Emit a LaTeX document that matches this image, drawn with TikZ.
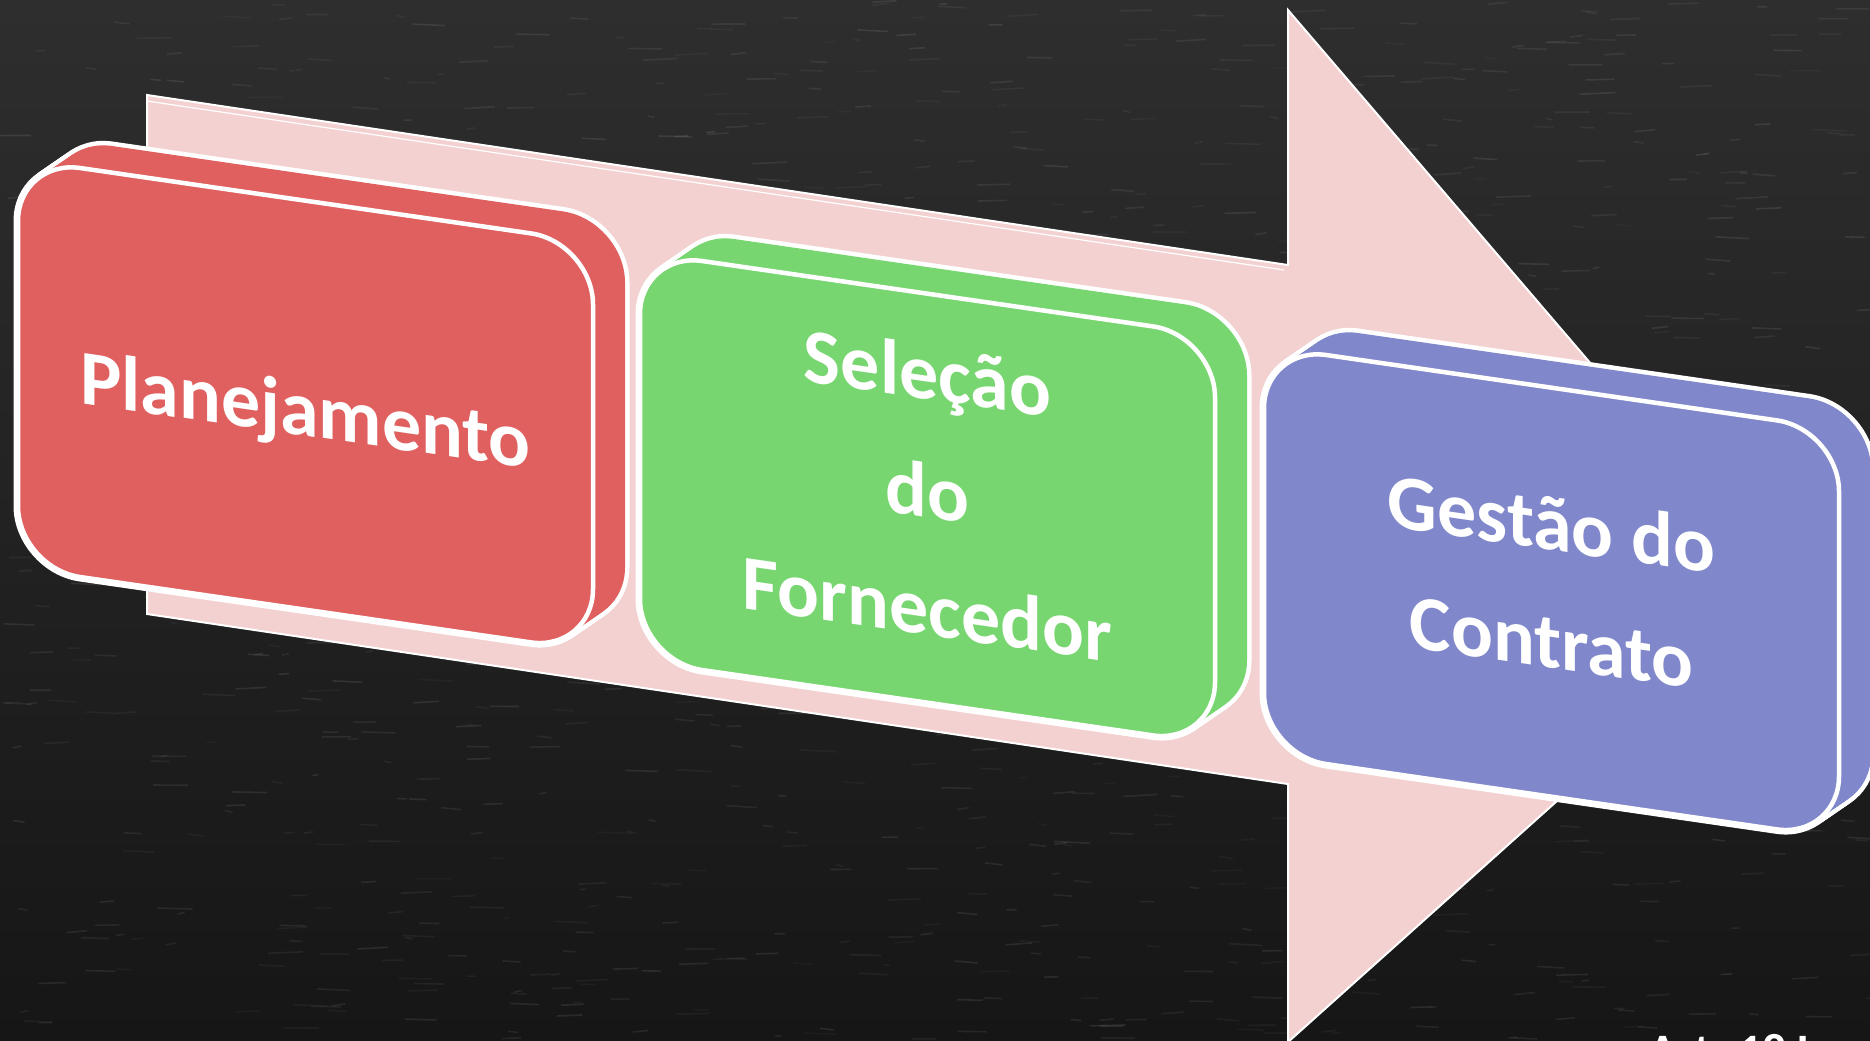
\documentclass[tikz,border=0pt]{standalone}
\usepackage{fontspec}
\setmainfont{Carlito}
\definecolor{bgtop}{HTML}{2E2E2E}
\definecolor{bgbot}{HTML}{161616}
\definecolor{arrowpink}{HTML}{F2D1D0}
\definecolor{redbox}{HTML}{E06060}
\definecolor{greenbox}{HTML}{78D670}
\definecolor{bluebox}{HTML}{8088CB}
\def\W{575}
\def\H{409}
\def\R{62}
\def\K{34}
\def\DX{32}
\def\DY{-22}
\def\SL{-0.145}
\tikzset{
  rr/.style={insert path={(0,\R) -- (0,\H-\R) .. controls (0,\H-\R+\K) and (\R-\K,\H) .. (\R,\H)
     -- (\W-\R,\H) .. controls (\W-\R+\K,\H) and (\W,\H-\R+\K) .. (\W,\H-\R)
     -- (\W,\R) .. controls (\W,\R-\K) and (\W-\R+\K,0) .. (\W-\R,0)
     -- (\R,0) .. controls (\R-\K,0) and (0,\R-\K) .. (0,\R) -- cycle}},
  boxtext/.style={text=white, font=\fontsize{39}{59}\selectfont\bfseries, align=center, inner sep=0pt},
}
\newcommand\slab[6]{%
  \foreach \t in {0,...,12}{\begin{scope}[shift={(#1+\t*\DX/12,#2+\t*\DY/12)},yslant=\SL]\draw[white,line width=4.5pt,line join=round,rr];\end{scope}}
  \foreach \t in {0,...,12}{\begin{scope}[shift={(#1+\t*\DX/12,#2+\t*\DY/12)},yslant=\SL]\fill[#3,rr];\end{scope}}
  \begin{scope}[shift={(#1,#2)},yslant=\SL]
    \filldraw[fill=#3,draw=white,line width=2.25pt,rr];
    \node[boxtext,transform shape] (#4) at (\W/2,\H/2+#6) {#5};
  \end{scope}}
\begin{document}
\begin{tikzpicture}[x=0.5pt,y=-0.5pt]
\useasboundingbox (0,0) rectangle (1870,1040);
\shade[top color=bgtop, bottom color=bgbot] (0,0) rectangle (1870,1040);
% chalk texture
\pgfmathsetseed{7}
\foreach \i in {1,...,1100}{
  \pgfmathsetmacro\xa{rnd*1870}
  \pgfmathsetmacro\ya{rnd*1040}
  \pgfmathsetmacro\ln{6+rnd*30}
  \pgfmathsetmacro\op{0.03+rnd*0.06}
  \draw[white,opacity=\op,line width=0.8pt] (\xa,\ya) -- ++(\ln,rnd*4-2);
}
% big arrow
\fill[arrowpink] (147,95) -- (1288,265) -- (1288,10) -- (1788,594) -- (1288,1042) -- (1288,784) -- (147,614) -- cycle;
\draw[white,line width=1pt] (147,95) -- (1288,265) -- (1288,10) -- (1788,594) -- (1288,1042) -- (1288,784) -- (147,614) -- cycle;
\draw[white,line width=0.6pt] (147,101) -- (1284,270);
% boxes
\slab{18}{159}{redbox}{plan}{Planejamento}{10}
\slab{640}{252}{greenbox}{sel}{Seleção\\do\\Fornecedor}{-8}
\slab{1264}{346}{bluebox}{gest}{Gestão do\\Contrato}{-10}
% cut-off bottom text (cut by the lower edge, as in the reference)
\node[anchor=base west, inner sep=0pt, text=white, font=\fontsize{24}{28}\selectfont\bfseries] (art) at (1648,1067) {Art. 18 L};
\end{tikzpicture}
\end{document}
